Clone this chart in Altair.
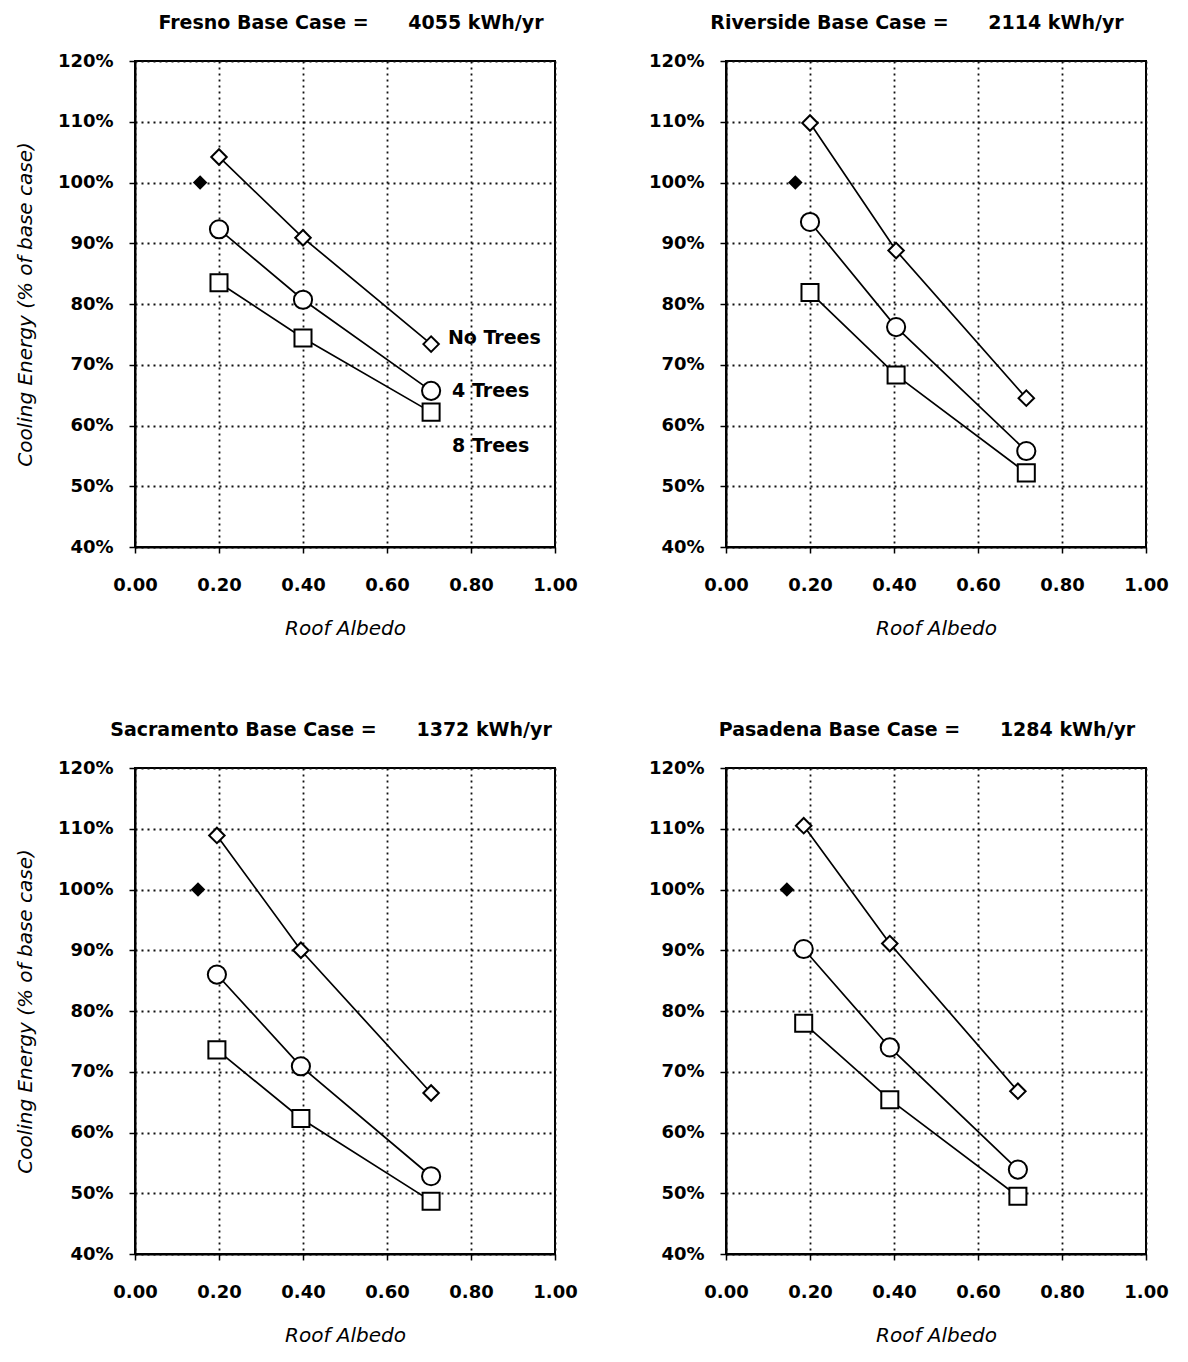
import altair as alt
import pandas as pd

# ---------------- data ----------------
cities = ["Fresno", "Riverside", "Sacramento", "Pasadena"]
base_case_kwh = ["4055 kWh/yr", "2114 kWh/yr", "1372 kWh/yr", "1284 kWh/yr"]
series_names = ["No Trees", "4 Trees", "8 Trees"]

# roof albedo of the three simulated points per city
fresno_albedo = [0.2, 0.4, 0.705]
riverside_albedo = [0.2, 0.405, 0.715]
sacramento_albedo = [0.195, 0.395, 0.705]
pasadena_albedo = [0.185, 0.39, 0.695]

# base case marker (filled diamond)
base_albedo = [0.155, 0.165, 0.15, 0.145]
base_value = [100, 100, 100, 100]

# cooling energy, % of base case
fresno_no_trees = [104.2, 90.9, 73.4]
fresno_4_trees = [92.3, 80.7, 65.7]
fresno_8_trees = [83.5, 74.4, 62.2]

riverside_no_trees = [109.8, 88.8, 64.5]
riverside_4_trees = [93.5, 76.2, 55.8]
riverside_8_trees = [81.9, 68.3, 52.2]

sacramento_no_trees = [108.9, 90.0, 66.5]
sacramento_4_trees = [86.0, 70.9, 52.8]
sacramento_8_trees = [73.6, 62.3, 48.7]

pasadena_no_trees = [110.5, 91.1, 66.8]
pasadena_4_trees = [90.2, 74.0, 53.9]
pasadena_8_trees = [78.0, 65.4, 49.5]

# in-plot series labels (Fresno panel only)
ann_text = ["No Trees", "4 Trees", "8 Trees"]
ann_albedo = [0.745, 0.755, 0.755]
ann_value = [74.4, 65.7, 56.7]

x_ticks = [0.0, 0.2, 0.4, 0.6, 0.8, 1.0]
y_ticks = [40, 50, 60, 70, 80, 90, 100, 110, 120]

# ---------------- build table ----------------
city_albedo = {
    "Fresno": fresno_albedo,
    "Riverside": riverside_albedo,
    "Sacramento": sacramento_albedo,
    "Pasadena": pasadena_albedo,
}
city_series = {
    "Fresno": [fresno_no_trees, fresno_4_trees, fresno_8_trees],
    "Riverside": [riverside_no_trees, riverside_4_trees, riverside_8_trees],
    "Sacramento": [sacramento_no_trees, sacramento_4_trees, sacramento_8_trees],
    "Pasadena": [pasadena_no_trees, pasadena_4_trees, pasadena_8_trees],
}
rows = []
for ci, c in enumerate(cities):
    for s, vals in zip(series_names, city_series[c]):
        for a, v in zip(city_albedo[c], vals):
            rows.append({"city": c, "series": s, "albedo": a, "energy": v})
    rows.append({"city": c, "series": "Base", "albedo": base_albedo[ci], "energy": base_value[ci]})
df = pd.DataFrame(rows)
ann_df = pd.DataFrame({"label": ann_text, "albedo": ann_albedo, "energy": ann_value})

FONT = "DejaVu Sans"
NBSP = "\u00a0" * 6
title_dx = {"Fresno": 6, "Riverside": -19, "Sacramento": -14, "Pasadena": -9}
shapes = {"No Trees": ("diamond", 240), "4 Trees": ("circle", 330), "8 Trees": ("square", 290)}


def panel(ci, show_ytitle):
    city = cities[ci]
    d = df[df.city == city]
    x = alt.X(
        "albedo:Q",
        scale=alt.Scale(domain=[0, 1], nice=False, zero=False),
        axis=alt.Axis(values=x_ticks, format=".2f", title="Roof Albedo", labelFlush=False,
                      labelPadding=23, titlePadding=24),
    )
    y_axis_kwargs = dict(values=y_ticks, labelExpr="datum.value + '%'", labelPadding=16,
                         titlePadding=22)
    if show_ytitle:
        y_axis_kwargs["title"] = "Cooling Energy (% of base case)"
    else:
        y_axis_kwargs["title"] = None
    y = alt.Y("energy:Q", scale=alt.Scale(domain=[40, 120], nice=False, zero=False),
              axis=alt.Axis(**y_axis_kwargs))

    base = alt.Chart(d)
    layers = [
        base.transform_filter(alt.datum.series != "Base")
        .mark_line(color="black", strokeWidth=1.7)
        .encode(x=x, y=y, detail="series:N")
    ]
    for s in series_names:
        shp, sz = shapes[s]
        layers.append(
            base.transform_filter(alt.datum.series == s)
            .mark_point(shape=shp, size=sz, filled=True, fill="white", stroke="black",
                        strokeWidth=2, opacity=1)
            .encode(x=x, y=y)
        )
    layers.append(
        base.transform_filter(alt.datum.series == "Base")
        .mark_point(shape="diamond", size=210, filled=True, color="black", opacity=1)
        .encode(x=x, y=y)
    )
    if city == "Fresno":
        layers.append(
            alt.Chart(ann_df)
            .mark_text(align="left", baseline="middle", font=FONT, fontSize=19,
                       fontWeight="bold", color="black")
            .encode(x=x, y=y, text="label:N")
        )
    title_text = f"{city} Base Case ={NBSP}{base_case_kwh[ci]}"
    return alt.layer(*layers).properties(
        width=420,
        height=486,
        title=alt.TitleParams(title_text, anchor="middle", frame="group", dx=title_dx[city],
                              offset=19, font=FONT, fontSize=19, fontWeight="bold",
                              color="black"),
    )


row1 = alt.hconcat(panel(0, True), panel(1, False), spacing=68)
row2 = alt.hconcat(panel(2, True), panel(3, False), spacing=68)

chart = (
    alt.vconcat(row1, row2, spacing=81)
    .properties(padding={"left": 6, "top": 5, "right": 0, "bottom": 0}, background="white")
    .configure_view(stroke="black", strokeWidth=2)
    .configure_axis(
        domainColor="black", domainWidth=2,
        tickColor="black", tickWidth=1.5, tickSize=6,
        labelFont=FONT, labelFontSize=18, labelFontWeight="bold", labelColor="black",
        titleFont=FONT, titleFontSize=20, titleFontStyle="italic", titleFontWeight="normal",
        titleColor="black",
        gridColor="#111111", gridDash=[2, 4], gridWidth=1.8, gridOpacity=1,
    )
)

chart.save("out.html", embed_options={"renderer": "svg", "actions": False})
